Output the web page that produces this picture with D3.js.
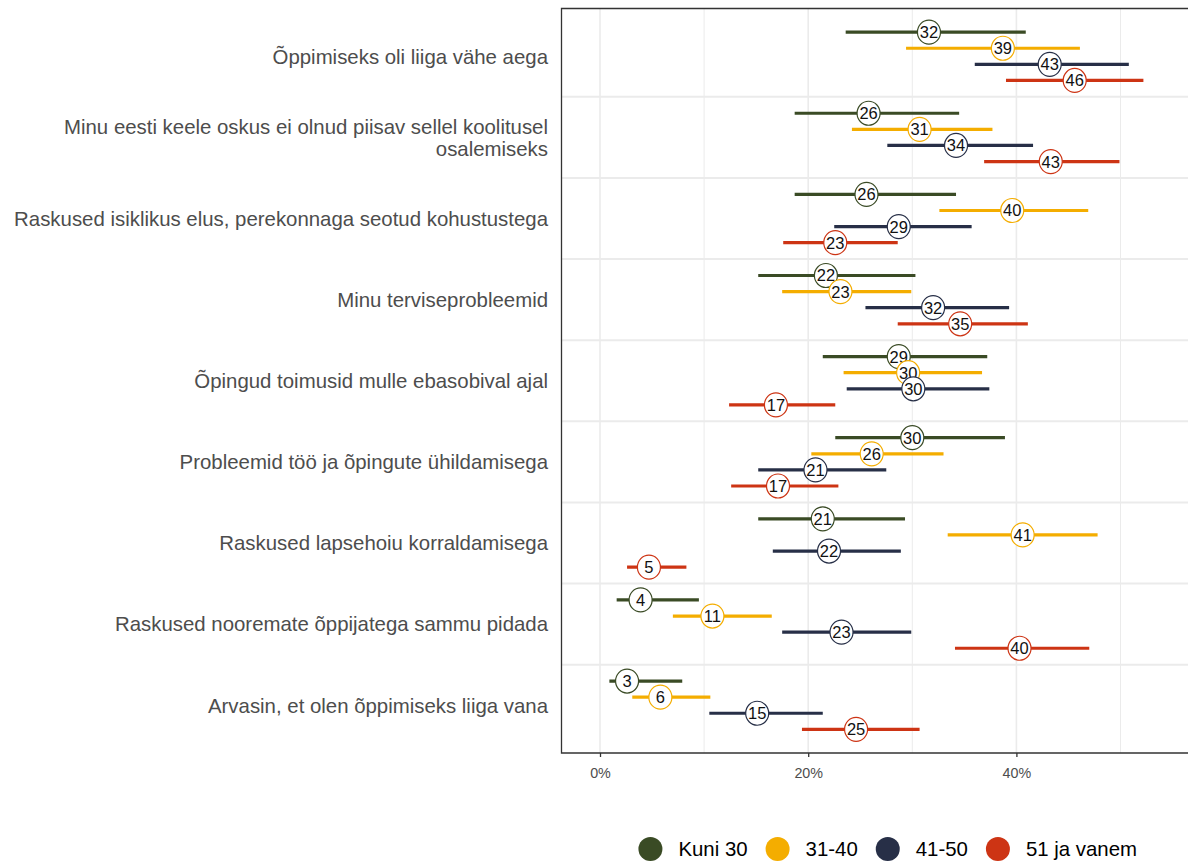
<!DOCTYPE html>
<html><head><meta charset="utf-8">
<script src="https://cdn.jsdelivr.net/npm/d3@7"></script>
<style>body{margin:0;background:#fff;} svg{display:block;font-family:"Liberation Sans",Arial,sans-serif;}</style>
</head><body>
<script>
const categories = [
  "Õppimiseks oli liiga vähe aega",
  "Minu eesti keele oskus ei olnud piisav sellel koolitusel\nosalemiseks",
  "Raskused isiklikus elus, perekonnaga seotud kohustustega",
  "Minu terviseprobleemid",
  "Õpingud toimusid mulle ebasobival ajal",
  "Probleemid töö ja õpingute ühildamisega",
  "Raskused lapsehoiu korraldamisega",
  "Raskused nooremate õppijatega sammu pidada",
  "Arvasin, et olen õppimiseks liiga vana"
];
const seriesNames = ["Kuni 30", "31-40", "41-50", "51 ja vanem"];
const seriesColors = ["#3a4b25", "#f4ad00", "#272f47", "#cd3414"];

const kuni30   = [31.6, 25.8, 25.6, 21.7, 28.7, 30.0, 21.4, 3.9, 2.6];
const kuni30Lo = [23.6, 18.7, 18.7, 15.2, 21.4, 22.6, 15.2, 1.6, 0.9];
const kuni30Hi = [40.9, 34.5, 34.2, 30.3, 37.2, 38.9, 29.3, 9.5, 7.9];

const s3140   = [38.7, 30.7, 39.6, 23.1, 29.6, 26.1, 40.6, 10.8, 5.8];
const s3140Lo = [29.4, 24.2, 32.6, 17.5, 23.4, 20.3, 33.4, 7.0, 3.1];
const s3140Hi = [46.1, 37.7, 46.9, 29.9, 36.7, 33.0, 47.8, 16.5, 10.6];

const s4150   = [43.2, 34.2, 28.7, 32.0, 30.1, 20.7, 22.0, 23.2, 15.1];
const s4150Lo = [36.0, 27.6, 22.5, 25.5, 23.7, 15.2, 16.6, 17.5, 10.5];
const s4150Hi = [50.8, 41.6, 35.7, 39.3, 37.4, 27.5, 28.9, 29.9, 21.4];

const s51   = [45.6, 43.3, 22.6, 34.6, 16.9, 17.1, 4.7, 40.3, 24.6];
const s51Lo = [39.0, 36.9, 17.6, 28.6, 12.4, 12.6, 2.6, 34.1, 19.4];
const s51Hi = [52.2, 49.9, 28.6, 41.1, 22.6, 22.9, 8.3, 47.0, 30.7];

const xTicks = [0, 20, 40];
const xMinor = [10, 30, 50];

const seriesData = [
  [kuni30, kuni30Lo, kuni30Hi],
  [s3140, s3140Lo, s3140Hi],
  [s4150, s4150Lo, s4150Hi],
  [s51, s51Lo, s51Hi]
];

const W = 1188, H = 863;
const panel = {left: 561.5, top: 8.5, right: 1200, bottom: 753};

const svg = d3.select("body").append("svg").attr("width", W).attr("height", H);
svg.append("rect").attr("width", W).attr("height", H).attr("fill", "#fff");

const x = d3.scaleLinear().domain([0, 50]).range([600, 1120.5]);
const y = d3.scalePoint().domain(categories).range([56.3, 705.2]);
const step = y.step();
const dodge = 16.1;

// grid
const g = svg.append("g");
g.selectAll(".minor").data(xMinor).join("line")
  .attr("x1", d => x(d)).attr("x2", d => x(d))
  .attr("y1", panel.top).attr("y2", panel.bottom)
  .attr("stroke", "#ebebeb").attr("stroke-width", 1);
g.selectAll(".major").data(xTicks).join("line")
  .attr("x1", d => x(d)).attr("x2", d => x(d))
  .attr("y1", panel.top).attr("y2", panel.bottom)
  .attr("stroke", "#ebebeb").attr("stroke-width", 1.6);
g.selectAll(".hsep").data(categories.slice(0, -1)).join("line")
  .attr("x1", panel.left).attr("x2", W)
  .attr("y1", d => y(d) + step / 2).attr("y2", d => y(d) + step / 2)
  .attr("stroke", "#ebebeb").attr("stroke-width", 2);

// error bars
seriesData.forEach((sd, j) => {
  const [val, lo, hi] = sd;
  svg.append("g").selectAll("line").data(categories).join("line")
    .attr("x1", (d, i) => x(lo[i])).attr("x2", (d, i) => x(hi[i]))
    .attr("y1", d => y(d) + (j - 1.5) * dodge).attr("y2", d => y(d) + (j - 1.5) * dodge)
    .attr("stroke", seriesColors[j]).attr("stroke-width", 3.2);
});
// labels
seriesData.forEach((sd, j) => {
  const [val] = sd;
  const lg = svg.append("g");
  categories.forEach((c, i) => {
    const cx = x(val[i]), cy = y(c) + (j - 1.5) * dodge;
    lg.append("ellipse").attr("cx", cx).attr("cy", cy).attr("rx", 11.5).attr("ry", 12)
      .attr("fill", "#fff").attr("stroke", seriesColors[j]).attr("stroke-width", 1.2);
    lg.append("text").attr("x", cx).attr("y", cy).attr("dy", "0.36em")
      .attr("text-anchor", "middle").attr("font-size", 16.5).attr("fill", "#111")
      .text(Math.round(val[i]));
  });
});

// panel border (left, top, bottom)
svg.append("path")
  .attr("d", `M${W + 5},${panel.top}H${panel.left}V${panel.bottom}H${W + 5}`)
  .attr("fill", "none").attr("stroke", "#333").attr("stroke-width", 1.3);

// x axis
const xa = svg.append("g").attr("transform", `translate(0,${panel.bottom})`)
  .call(d3.axisBottom(x).tickValues(xTicks).tickFormat(d => d + "%").tickSize(4).tickPadding(11));
xa.select(".domain").remove();
xa.selectAll(".tick line").attr("stroke", "#333").attr("stroke-width", 1.3);
xa.selectAll(".tick text").attr("fill", "#4d4d4d").attr("font-size", 14.3)
  .attr("font-family", "Liberation Sans, Arial, sans-serif");

// y labels
const labFont = 20.4;
const ylab = svg.append("g");
categories.forEach(c => {
  const lines = c.split("\n");
  const lh = 22.5;
  const t = ylab.append("text").attr("text-anchor", "end").attr("fill", "#4d4d4d")
    .attr("font-size", labFont);
  lines.forEach((ln, k) => {
    t.append("tspan").attr("x", 548)
      .attr("y", y(c) + (k - (lines.length - 1) / 2) * lh)
      .attr("dy", "0.36em").text(ln);
  });
});

// legend
const leg = svg.append("g");
const legY = 849;
let cur = 0;
seriesNames.forEach((n, j) => {
  const it = leg.append("g").attr("transform", `translate(${cur},0)`);
  it.append("circle").attr("cx", 0).attr("cy", legY).attr("r", 12).attr("fill", seriesColors[j]);
  const t = it.append("text").attr("x", 28).attr("y", legY).attr("dy", "0.36em")
    .attr("font-size", labFont).attr("fill", "#000").text(n);
  const w = t.node().getComputedTextLength();
  cur += 28 + w + 30;
});
const totalW = cur - 30;
leg.attr("transform", `translate(${1137 - totalW},0)`);
</script>
</body></html>
